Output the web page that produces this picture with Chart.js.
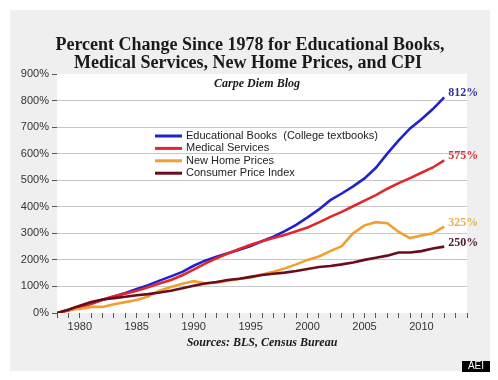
<!DOCTYPE html>
<html><head><meta charset="utf-8">
<script src="https://cdn.jsdelivr.net/npm/chart.js@4.4.1/dist/chart.umd.min.js"></script>
<style>html,body{margin:0;padding:0;background:#fff}</style>
</head><body>
<canvas id="c" width="498" height="380"></canvas>
<script>
const years = [1978,1979,1980,1981,1982,1983,1984,1985,1986,1987,1988,1989,1990,1991,1992,1993,1994,1995,1996,1997,1998,1999,2000,2001,2002,2003,2004,2005,2006,2007,2008,2009,2010,2011,2012];
const eduBooks = [0,12,25,38,50,62,75,90,105,122,138,155,178,197,212,225,238,252,270,287,308,332,360,390,425,450,477,507,547,600,650,695,730,768,812];
const medical  = [0,9,21,34,50,63,73,84,97,111,124,142,163,186,206,224,241,257,270,282,294,308,322,341,362,381,402,423,444,468,489,508,528,548,575];
const newHomes = [0,12,15,23,23,33,41,49,62,84,98,110,120,112,114,122,128,134,145,155,168,183,200,213,233,252,300,330,342,338,305,282,292,300,325];
const cpi      = [0,12,27,41,51,56,61,67,71,77,84,93,103,111,117,124,129,136,143,148,152,158,166,173,177,183,190,200,208,216,228,228,233,243,250];
const seriesNames = ['Educational Books  (College textbooks)','Medical Services','New Home Prices','Consumer Price Index'];
const endLabels = ['812%','575%','325%','250%'];
const xTickLabels = [1980,1985,1990,1995,2000,2005,2010];
const titleLines = ['Percent Change Since 1978 for Educational Books,','Medical Services, New Home Prices, and CPI'];
const subtitleText = 'Carpe Diem Blog';
const sourceText = 'Sources: BLS, Census Bureau';
const badgeText = 'AEI';

const lineColors = ['#2222cc','#e0282c','#f0a030','#6a0c1e'];
const labelColors = ['#34349a','#d4302f','#e8b04c','#5a1828'];
const seriesValues = [eduBooks, medical, newHomes, cpi];

const datasets = seriesValues.map((vals, i) => ({
  label: seriesNames[i],
  data: years.map((y, k) => ({x: y, y: vals[k]})),
  borderColor: lineColors[i],
  backgroundColor: lineColors[i],
  borderWidth: 2.6,
  pointRadius: 0,
  tension: 0,
  fill: false
}));
datasets.reverse();

const SANS = '"Liberation Sans", Arial, sans-serif';
const SERIF = '"Liberation Serif", "DejaVu Serif", serif';

const decor = {
  id: 'decor',
  beforeDraw(chart) {
    const ctx = chart.ctx, a = chart.chartArea;
    ctx.save();
    ctx.fillStyle = '#ffffff';
    ctx.fillRect(0, 0, chart.width, chart.height);
    ctx.fillStyle = '#efefef';
    ctx.fillRect(10, 10, 480, 361);
    ctx.fillStyle = '#ffffff';
    ctx.fillRect(a.left, a.top, a.right - a.left, a.bottom - a.top);
    ctx.restore();
  },
  afterDraw(chart) {
    const ctx = chart.ctx;
    ctx.save();
    ctx.fillStyle = '#1a1a1a';
    ctx.textAlign = 'center';
    ctx.textBaseline = 'middle';
    ctx.font = 'bold 18px ' + SERIF;
    ctx.fillText(titleLines[0], 250, 45);
    ctx.fillText(titleLines[1], 248, 63);
    ctx.font = 'italic bold 12px ' + SERIF;
    ctx.fillText(subtitleText, 257, 84);
    ctx.fillText(sourceText, 262, 343);
    ctx.textAlign = 'left';
    ctx.font = '11px ' + SANS;
    [0,1,2,3].forEach((i, r) => {
      const y = 136 + r * 12.4;
      ctx.strokeStyle = lineColors[i];
      ctx.lineWidth = 3;
      ctx.beginPath();
      ctx.moveTo(155, y);
      ctx.lineTo(182, y);
      ctx.stroke();
      ctx.fillStyle = '#222';
      ctx.fillText(seriesNames[i], 186, y);
    });
    ctx.font = 'bold 12px ' + SERIF;
    chart.data.datasets.forEach((ds, di) => {
      const idx = seriesNames.indexOf(ds.label);
      const meta = chart.getDatasetMeta(di);
      const last = meta.data[meta.data.length - 1];
      ctx.fillStyle = labelColors[idx];
      ctx.fillText(endLabels[idx], last.x + 4, last.y - 4);
    });
    ctx.fillStyle = '#000';
    ctx.fillRect(462, 361, 28, 11);
    ctx.fillStyle = '#fff';
    ctx.font = '10px ' + SANS;
    ctx.textAlign = 'center';
    ctx.fillText(badgeText, 476, 366.5);
    ctx.restore();
  }
};

new Chart(document.getElementById('c'), {
  type: 'line',
  data: { datasets },
  options: {
    responsive: false,
    animation: false,
    devicePixelRatio: 1,
    layout: { padding: { top: 74, right: 31, left: 0, bottom: 0 } },
    plugins: { legend: { display: false }, tooltip: { enabled: false }, title: { display: false } },
    scales: {
      x: {
        type: 'linear', min: 1978, max: 2014,
        afterFit: s => { s.height = 67; },
        border: { display: false },
        grid: { drawOnChartArea: false, tickLength: 5, color: '#555', tickColor: '#555' },
        ticks: {
          stepSize: 1, autoSkip: false, maxRotation: 0, padding: 2,
          color: '#333', font: { family: SANS, size: 11 },
          callback: v => xTickLabels.includes(v) ? String(v) : ''
        }
      },
      y: {
        min: 0, max: 900,
        afterFit: s => { s.width = 57; },
        border: { display: false },
        grid: {
          color: c => (c.tick && (c.tick.value === 0 || c.tick.value === 900)) ? 'rgba(0,0,0,0)' : '#c8c8c8',
          tickColor: '#555', tickLength: 5, lineWidth: 1
        },
        ticks: {
          stepSize: 100, padding: 3, color: '#333', font: { family: SANS, size: 11 },
          callback: v => v + '%'
        }
      }
    }
  },
  plugins: [decor]
});
</script>
</body></html>
